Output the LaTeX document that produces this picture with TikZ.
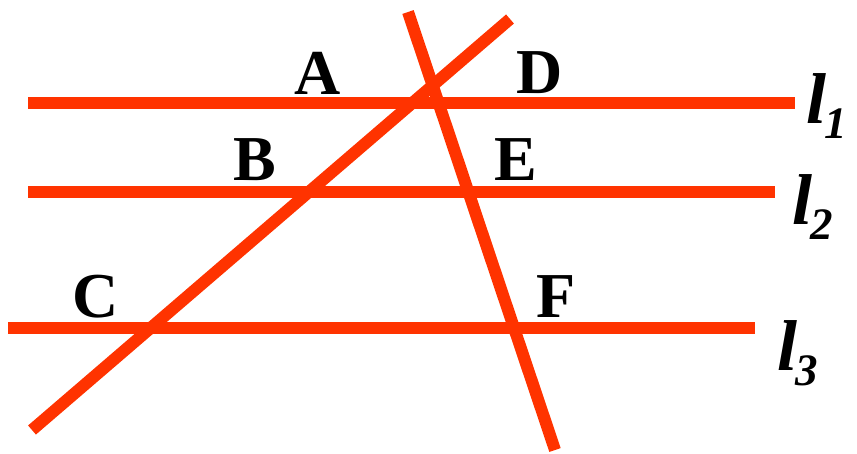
\documentclass[tikz,border=0pt]{standalone}
\usepackage{fontspec}
\setmainfont{Liberation Serif}
\definecolor{lred}{HTML}{FF3300}
\newcommand{\lsub}[1]{\kern-2pt\raisebox{-15pt}{\fontsize{45}{45}\selectfont #1}}
\begin{document}
\begin{tikzpicture}[x=1pt,y=-1pt,
  ln/.style={draw=lred,line width=12pt},
  pt/.style={font=\fontsize{64}{64}\selectfont\bfseries,inner sep=0pt},
  lab/.style={font=\fontsize{72}{72}\selectfont\bfseries\itshape,inner sep=0pt,anchor=base west}]
\useasboundingbox (0,0) rectangle (857,453);
\coordinate (l1a) at (28,103); \coordinate (l1b) at (795,103);
\coordinate (l2a) at (28,192); \coordinate (l2b) at (775,192);
\coordinate (l3a) at (8,328); \coordinate (l3b) at (755,328);
\coordinate (m1a) at (32,430); \coordinate (m1b) at (510,19);
\coordinate (m2a) at (408,12); \coordinate (m2b) at (555,450);
\draw[ln] (l1a) -- (l1b);
\draw[ln] (l2a) -- (l2b);
\draw[ln] (l3a) -- (l3b);
\draw[ln] (m1a) -- (m1b);
\draw[ln] (m2a) -- (m2b);
\node[pt] (A) at (318,73) {A};
\node[pt] (D) at (540,73) {D};
\node[pt] (B) at (255,160) {B};
\node[pt] (E) at (516,160) {E};
\node[pt] (C) at (96,297) {C};
\node[pt] (F) at (556,297) {F};
\node[lab] (L1) at (806,123) {l\lsub{1}};
\node[lab] (L2) at (792,224) {l\lsub{2}};
\node[lab] (L3) at (777,370) {l\lsub{3}};
\end{tikzpicture}
\end{document}
